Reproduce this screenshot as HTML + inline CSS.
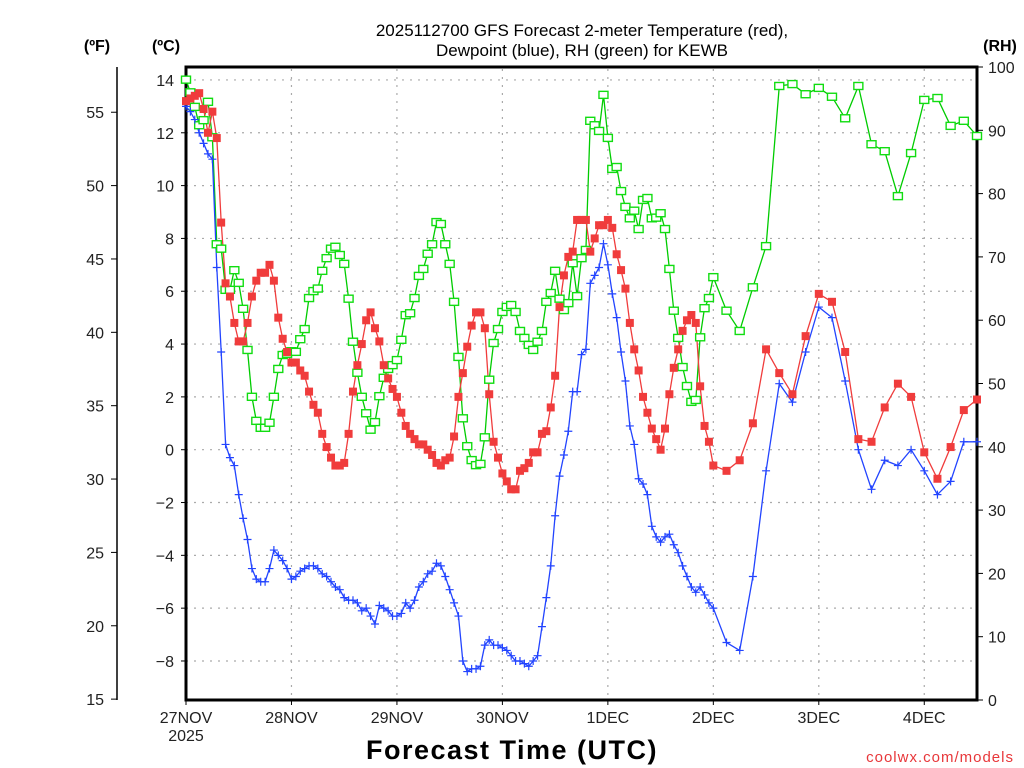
<!DOCTYPE html>
<html><head><meta charset="utf-8">
<style>
html,body{margin:0;padding:0;background:#fff;}
svg{display:block;font-family:"Liberation Sans",sans-serif;}
</style></head>
<body>
<svg id="chart" width="1024" height="768" viewBox="0 0 1024 768">
  <g id="grid"></g>
  <g id="axes"></g>
  <g id="series"></g>
  <text x="582" y="36" text-anchor="middle" font-size="17" fill="#000">2025112700 GFS Forecast 2-meter Temperature (red),</text>
  <text x="582" y="56" text-anchor="middle" font-size="17" fill="#000">Dewpoint (blue), RH (green) for KEWB</text>
  <text x="97" y="51" text-anchor="middle" font-size="16" font-weight="bold">(ºF)</text>
  <text x="166" y="51" text-anchor="middle" font-size="16" font-weight="bold">(ºC)</text>
  <text x="1000" y="51" text-anchor="middle" font-size="16" font-weight="bold">(RH)</text>
  <text x="512" y="759" text-anchor="middle" font-size="27" font-weight="bold" letter-spacing="1.5">Forecast Time (UTC)</text>
  <text x="1014" y="762" text-anchor="end" font-size="15" fill="#e8373a" letter-spacing="1">coolwx.com/models</text>
</svg>
<script>
const hours = [];
for (let h = 0; h <= 120; h++) hours.push(h);
for (let h = 123; h <= 180; h += 3) hours.push(h);

const tempC = [13.2,13.3,13.4,13.5,12.9,12.0,12.8,11.8,8.6,6.3,
5.8,4.8,4.1,4.1,4.8,5.8,6.4,6.7,6.7,7.0,
6.4,5.0,4.2,3.7,3.3,3.3,3.0,2.8,2.2,1.7,
1.4,0.6,0.1,-0.3,-0.6,-0.6,-0.5,0.6,2.2,3.2,
4.0,4.9,5.2,4.6,4.1,3.2,2.7,2.3,2.0,1.4,
0.9,0.6,0.4,0.2,0.2,0.0,-0.2,-0.5,-0.6,-0.4,
-0.3,0.5,2.0,2.9,3.9,4.7,5.2,5.2,4.6,2.1,
0.3,-0.3,-0.9,-1.2,-1.5,-1.5,-0.8,-0.7,-0.5,-0.1,
-0.1,0.6,0.7,1.6,2.8,5.4,6.6,7.3,7.5,8.7,
8.7,8.7,7.5,8.0,8.5,8.5,8.7,8.4,7.4,6.8,
6.1,4.8,3.8,3.0,2.0,1.4,0.8,0.4,0.0,0.8,
2.1,3.1,3.8,4.5,4.9,5.1,4.8,2.4,0.9,0.3,
-0.6,
-0.8,-0.4,1.0,3.8,2.9,2.1,4.3,5.9,5.6,3.7,0.4,0.3,1.6,2.5,2.0,-0.1,-1.1,0.1,1.5,1.9];

const dewC = [13.0,12.8,12.5,12.0,11.6,11.2,11.0,6.9,3.7,0.2,
-0.3,-0.6,-1.7,-2.6,-3.4,-4.5,-4.9,-5.0,-5.0,-4.5,
-3.8,-4.0,-4.2,-4.5,-4.9,-4.8,-4.6,-4.5,-4.4,-4.4,
-4.5,-4.7,-4.8,-5.0,-5.2,-5.3,-5.6,-5.7,-5.7,-5.8,
-6.1,-6.0,-6.3,-6.6,-5.9,-6.0,-6.1,-6.3,-6.3,-6.2,
-5.8,-6.0,-5.7,-5.2,-5.0,-4.7,-4.6,-4.3,-4.4,-4.8,
-5.3,-5.8,-6.3,-8.0,-8.4,-8.3,-8.3,-8.2,-7.4,-7.2,
-7.4,-7.4,-7.5,-7.6,-7.8,-8.0,-8.0,-8.1,-8.2,-8.0,
-7.8,-6.7,-5.6,-4.4,-2.5,-1.0,-0.2,0.7,2.2,2.2,
3.6,3.8,6.3,6.6,6.9,7.8,7.0,5.9,5.0,3.7,
2.6,0.9,0.2,-1.1,-1.3,-1.7,-2.9,-3.3,-3.5,-3.3,
-3.2,-3.6,-3.9,-4.4,-4.8,-5.2,-5.4,-5.2,-5.5,-5.8,
-6.0,
-7.3,-7.6,-4.8,-0.8,2.5,1.8,3.7,5.4,5.0,2.6,0.0,-1.5,-0.4,-0.6,0.0,-0.8,-1.7,-1.2,0.3,0.3];

const rhPct = [98,96,93.7,90.8,91.6,94.5,88.9,72.0,71.3,64.8,
64.8,67.9,65.9,61.8,55.3,47.9,44.1,43.0,43.0,43.8,
47.9,52.3,54.5,54.7,55.1,55.0,57.0,58.6,63.5,64.6,
65,67.8,69.8,71.3,71.6,70.3,68.9,63.4,56.6,51.7,
47.9,45.3,42.7,43.9,48.0,50.9,52.3,52.9,53.7,56.9,
60.8,61.1,63.5,67.0,68.1,70.5,72.0,75.5,75.2,72.0,
68.9,62.9,54.2,44.5,40.1,37.9,37.1,37.3,41.5,50.6,
56.4,58.6,61.3,62.1,62.4,61.3,58.3,57.2,56.1,55.3,
56.6,58.3,62.9,64.3,67.8,63.4,61.6,62.7,69.0,63.8,
69.8,71.1,91.5,90.8,89.9,95.6,88.8,83.9,84.2,80.4,
77.9,76.1,77.3,74.4,79.0,79.3,76.1,76.2,76.9,74.4,
68.1,61.5,57.2,52.6,49.6,47.1,47.4,57.3,61.9,63.5,
66.8,
61.5,58.3,65.2,71.7,97.0,97.3,95.7,96.7,95.3,91.9,97.0,87.8,86.7,79.6,86.4,94.8,95.1,90.7,91.5,89.1];

const dayLabels = ["27NOV","28NOV","29NOV","30NOV","1DEC","2DEC","3DEC","4DEC"];
const celsiusTicks = [-8,-6,-4,-2,0,2,4,6,8,10,12,14];
const fahrenheitTicks = [15,20,25,30,35,40,45,50,55];
const rhTicks = [0,10,20,30,40,50,60,70,80,90,100];

const NS = "http://www.w3.org/2000/svg";
const L = 186, R = 977, T = 67, B = 700;
const xScale = h => L + (h / 180) * (R - L);
const yC = c => 449.7 - c * 26.41;
const yF = f => yC((f - 32) * 5 / 9);
const yRH = r => B - r * (B - T) / 100;

function mk(tag, attrs, parent) {
  const e = document.createElementNS(NS, tag);
  for (const k in attrs) e.setAttribute(k, attrs[k]);
  parent.appendChild(e);
  return e;
}
const grid = document.getElementById('grid');
const axes = document.getElementById('axes');
const series = document.getElementById('series');

// horizontal grid
celsiusTicks.forEach(c => {
  const y = yC(c);
  const ln = mk('line', {x1: L, x2: R - 2, y1: y, y2: y, stroke: '#aaa', 'stroke-width': 1.2, 'stroke-dasharray': '2,6'}, grid);
  
  
  const tk = mk('line', {x1: L - 5, x2: L, y1: y, y2: y, stroke: '#000', 'stroke-width': 1}, axes);
  
  
  const tx = mk('text', {x: L - 12, y: y + 6, 'text-anchor': 'end', 'font-size': 16, fill: '#222'}, axes);
  tx.textContent = c < 0 ? '\u2212' + Math.abs(c) : String(c);
  
  
});
// vertical grid + day labels
dayLabels.forEach((d, i) => {
  const x = xScale(i * 24);
  if (i > 0) {
    const ln = mk('line', {x1: x, x2: x, y1: T + 2, y2: B, stroke: '#aaa', 'stroke-width': 1.2, 'stroke-dasharray': '2,6'}, grid);
    
    
  }
  const tk = mk('line', {x1: x, x2: x, y1: B, y2: B + 5, stroke: '#000', 'stroke-width': 1}, axes);
  
  
  const tx = mk('text', {x: x, y: B + 23, 'text-anchor': 'middle', 'font-size': 16, fill: '#222'}, axes);
  tx.textContent = d;
  
  
});
const yr = mk('text', {x: xScale(0), y: B + 41, 'text-anchor': 'middle', 'font-size': 16, fill: '#222'}, axes);
yr.textContent = '2025';



// Fahrenheit axis
const fAxis = mk('line', {x1: 117, x2: 117, y1: T, y2: B, stroke: '#000', 'stroke-width': 1.5}, axes);


fahrenheitTicks.forEach(f => {
  const y = yF(f);
  const tk = mk('line', {x1: 111, x2: 117, y1: y, y2: y, stroke: '#000', 'stroke-width': 1}, axes);
  
  
  const tx = mk('text', {x: 104, y: y + 6, 'text-anchor': 'end', 'font-size': 16, fill: '#222'}, axes);
  tx.textContent = String(f);
  
  
});
// RH axis
rhTicks.forEach(r => {
  const y = yRH(r);
  const tk = mk('line', {x1: R, x2: R + 6, y1: y, y2: y, stroke: '#000', 'stroke-width': 1}, axes);
  
  
  const tx = mk('text', {x: R + 11, y: y + 6, 'text-anchor': 'start', 'font-size': 16, fill: '#222'}, axes);
  tx.textContent = String(r);
  
  
});
// plot frame
const frame = mk('path', {d: `M${L},${B} L${L},${T} L${R},${T} L${R},${B} Z`, fill: 'none', stroke: '#000', 'stroke-width': 3}, axes);



function drawLine(vals, yf, color, name) {
  const pts = vals.map((v, i) => xScale(hours[i]).toFixed(1) + ',' + yf(v).toFixed(1)).join(' ');
  const pl = mk('polyline', {points: pts, fill: 'none', stroke: color, 'stroke-width': 1.3}, series);
  
  
}
drawLine(rhPct, yRH, '#00cc00', 'rh-line');
drawLine(dewC, yC, '#2244ff', 'dewpoint-line');
drawLine(tempC, yC, '#f03c3c', 'temperature-line');

rhPct.forEach((v, i) => {
  const x = xScale(hours[i]), y = yRH(v);
  const m = mk('rect', {x: x - 4.5, y: y - 3.5, width: 9, height: 7, fill: '#fff', stroke: '#11dd11', 'stroke-width': 1.4}, series);
  
  
});
dewC.forEach((v, i) => {
  const x = xScale(hours[i]), y = yC(v);
  const m = mk('path', {d: `M${x - 4},${y} H${x + 4} M${x},${y - 4} V${y + 4}`, stroke: '#2244ff', 'stroke-width': 1.2}, series);
  
  
});
tempC.forEach((v, i) => {
  const x = xScale(hours[i]), y = yC(v);
  const m = mk('rect', {x: x - 4, y: y - 4, width: 8, height: 8, fill: '#f03c3c'}, series);
  
  
});
</script>
</body></html>
